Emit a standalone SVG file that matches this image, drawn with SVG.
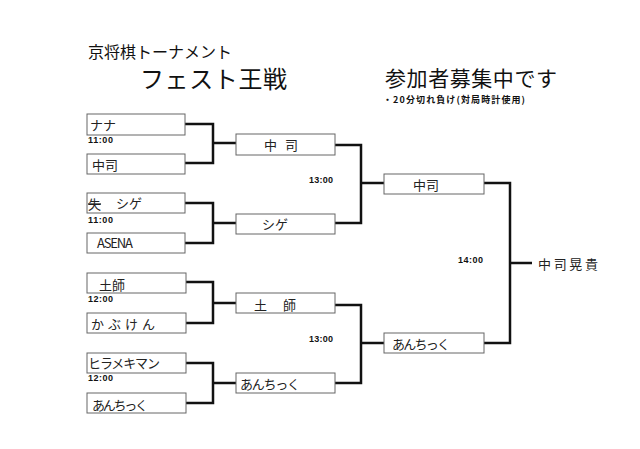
<svg xmlns="http://www.w3.org/2000/svg" width="640" height="449" viewBox="0 0 640 449">
<style>
.box{fill:#fff;stroke:#666;stroke-width:1}
.ln{fill:none;stroke:#111;stroke-width:2.5;stroke-linejoin:miter}
.nm{font-family:"Noto Sans CJK JP","Noto Sans",sans-serif;font-size:13px;fill:#222}
.tm{font-family:"Liberation Sans","Noto Sans CJK JP",sans-serif;font-size:9px;font-weight:bold;fill:#111}
.ttl{font-family:"Noto Sans CJK JP",sans-serif;fill:#111}
</style>
<rect width="640" height="449" fill="#fff"/>
<g id="titles">
<text class="ttl" x="88" y="58" font-size="16">京将棋トーナメント</text>
<text class="ttl" x="140" y="88" font-size="24" textLength="147">フェスト王戦</text>
<text class="ttl" x="385" y="86" font-size="21" textLength="172">参加者募集中です</text>
<text class="ttl" x="383" y="103" font-size="9" font-weight="bold" textLength="142">・20分切れ負け(対局時計使用)</text>
</g>
<g id="connectors">
<path class="ln" d="M185,124 H213 V163 H185 M213,143 H236"/>
<path class="ln" d="M185,203 H213 V243 H185 M213,223 H236"/>
<path class="ln" d="M186,282 H213 V323 H186 M213,303 H236"/>
<path class="ln" d="M186,363 H213 V403 H186 M213,383 H236"/>
<path class="ln" d="M335,145 H361 V223 H335 M361,183 H384"/>
<path class="ln" d="M335,305 H361 V383 H335 M361,343 H384"/>
<path class="ln" d="M484,183 H510 V343 H484 M510,263 H532"/>
</g>
<g id="r1-1"><rect class="box" x="87" y="114" width="98" height="21"/><text class="nm" x="90" y="130">ナナ</text></g>
<g id="r1-2"><rect class="box" x="87" y="154" width="98" height="20"/><text class="nm" x="92" y="170">中司</text></g>
<g id="r1-3"><rect class="box" x="87" y="193" width="98" height="20"/><text class="nm" x="88" y="209" text-decoration="line-through">失</text><text class="nm" x="116" y="208">シゲ</text></g>
<g id="r1-4"><rect class="box" x="87" y="233" width="98" height="20"/><text class="nm" x="97" y="248" font-size="9.5" font-family="Liberation Sans, sans-serif" textLength="36">ASENA</text></g>
<g id="r1-5"><rect class="box" x="87" y="273" width="99" height="20"/><text class="nm" x="99" y="290" font-size="15">土師</text></g>
<g id="r1-6"><rect class="box" x="87" y="313" width="99" height="20"/><text class="nm" x="91" y="329" textLength="64">かぶけん</text></g>
<g id="r1-7"><rect class="box" x="87" y="353" width="99" height="20"/><text class="nm" x="88" y="368" font-size="12" textLength="72">ヒラメキマン</text></g>
<g id="r1-8"><rect class="box" x="87" y="393" width="99" height="20"/><text class="nm" x="92" y="410" textLength="56">あんちっく</text></g>
<g id="r2-1"><rect class="box" x="236" y="134" width="99" height="21"/><text class="nm" x="264" y="150" letter-spacing="8">中司</text></g>
<g id="r2-2"><rect class="box" x="236" y="214" width="99" height="20"/><text class="nm" x="262" y="229">シゲ</text></g>
<g id="r2-3"><rect class="box" x="236" y="293" width="99" height="20"/><text class="nm" x="254" y="310" font-size="16" letter-spacing="16">土師</text></g>
<g id="r2-4"><rect class="box" x="236" y="373" width="99" height="20"/><text class="nm" x="240" y="389" textLength="60">あんちっく</text></g>
<g id="r3-1"><rect class="box" x="384" y="174" width="100" height="20"/><text class="nm" x="413" y="190">中司</text></g>
<g id="r3-2"><rect class="box" x="384" y="333" width="100" height="20"/><text class="nm" x="392" y="349" textLength="58">あんちっく</text></g>
<g id="winner"><text class="nm" x="538" y="269" font-size="15" textLength="60">中司晃貴</text></g>
<g id="times">
<text class="tm" x="88" y="143" textLength="25">11:00</text>
<text class="tm" x="88" y="223" textLength="25">11:00</text>
<text class="tm" x="88" y="302" textLength="25">12:00</text>
<text class="tm" x="88" y="381" textLength="25">12:00</text>
<text class="tm" x="309" y="183" textLength="24">13:00</text>
<text class="tm" x="309" y="342" textLength="24">13:00</text>
<text class="tm" x="458" y="263" textLength="25">14:00</text>
</g>
</svg>
